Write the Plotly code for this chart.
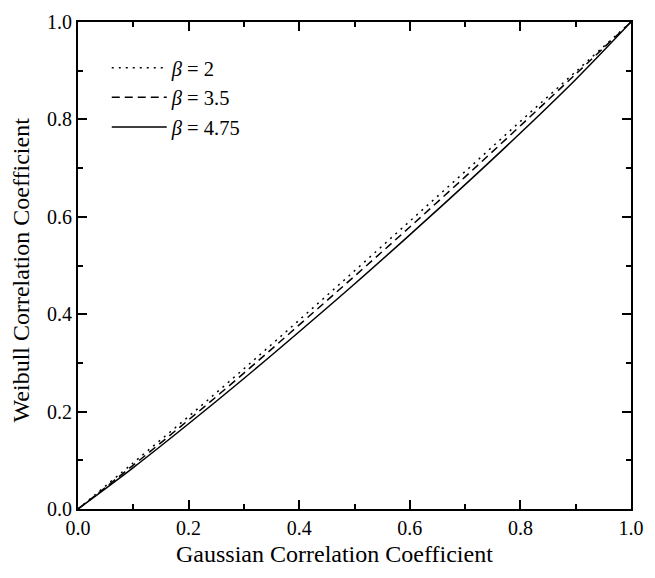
import plotly.graph_objects as go

gauss = [0.0, 0.1, 0.2, 0.3, 0.4, 0.5, 0.6, 0.7, 0.8, 0.9, 1.0]
weib_b2 = [0.0, 0.095, 0.190, 0.288, 0.388, 0.489, 0.591, 0.693, 0.796, 0.898, 1.0]
weib_b35 = [0.0, 0.090, 0.183, 0.279, 0.378, 0.478, 0.579, 0.682, 0.787, 0.893, 1.0]
weib_b475 = [0.0, 0.085, 0.175, 0.268, 0.364, 0.462, 0.563, 0.666, 0.772, 0.882, 1.0]
names = ["<i>β</i> = 2", "<i>β</i> = 3.5", "<i>β</i> = 4.75"]
x_title = "Gaussian Correlation Coefficient"
y_title = "Weibull Correlation Coefficient"

FONT = "'Liberation Serif', 'Times New Roman', serif"

fig = go.Figure()
fig.add_trace(go.Scatter(x=gauss, y=weib_b2, mode="lines", name=names[0], line_shape="spline",
                         line=dict(color="black", width=1.5, dash="2px,5px")))
fig.add_trace(go.Scatter(x=gauss, y=weib_b35, mode="lines", name=names[1], line_shape="spline",
                         line=dict(color="black", width=1.5, dash="8px,5px")))
fig.add_trace(go.Scatter(x=gauss, y=weib_b475, mode="lines", name=names[2], line_shape="spline",
                         line=dict(color="black", width=1.5)))

axis_common = dict(
    range=[0, 1], dtick=0.2, tickformat=".1f",
    showline=True, linecolor="black", linewidth=2, mirror="allticks",
    ticks="inside", ticklen=9, tickwidth=1.5, tickcolor="black",
    minor=dict(ticks="inside", ticklen=5, tickwidth=1.5, tickcolor="black", dtick=0.1),
    showgrid=False, zeroline=False,
    tickfont=dict(family=FONT, size=20, color="black"),
)

fig.update_layout(
    width=655, height=578,
    margin=dict(l=78, r=15, t=11, b=69),
    paper_bgcolor="white", plot_bgcolor="white",
    font=dict(family=FONT, color="black"),
    xaxis=axis_common,
    yaxis=axis_common,
    legend=dict(x=0.052, y=0.947, xanchor="left", yanchor="top",
                bgcolor="rgba(0,0,0,0)", font=dict(family=FONT, size=20.5),
                itemwidth=55, tracegroupgap=0),
    showlegend=True,
    annotations=[
        dict(text=x_title, xref="paper", yref="paper", x=0.463, y=-0.092,
             xanchor="center", yanchor="middle", showarrow=False,
             font=dict(family=FONT, size=24, color="black")),
        dict(text=y_title, xref="paper", yref="paper", x=-0.103, y=0.49,
             xanchor="center", yanchor="middle", showarrow=False, textangle=-90,
             font=dict(family=FONT, size=24, color="black")),
    ],
)

fig.write_html("out.html")
